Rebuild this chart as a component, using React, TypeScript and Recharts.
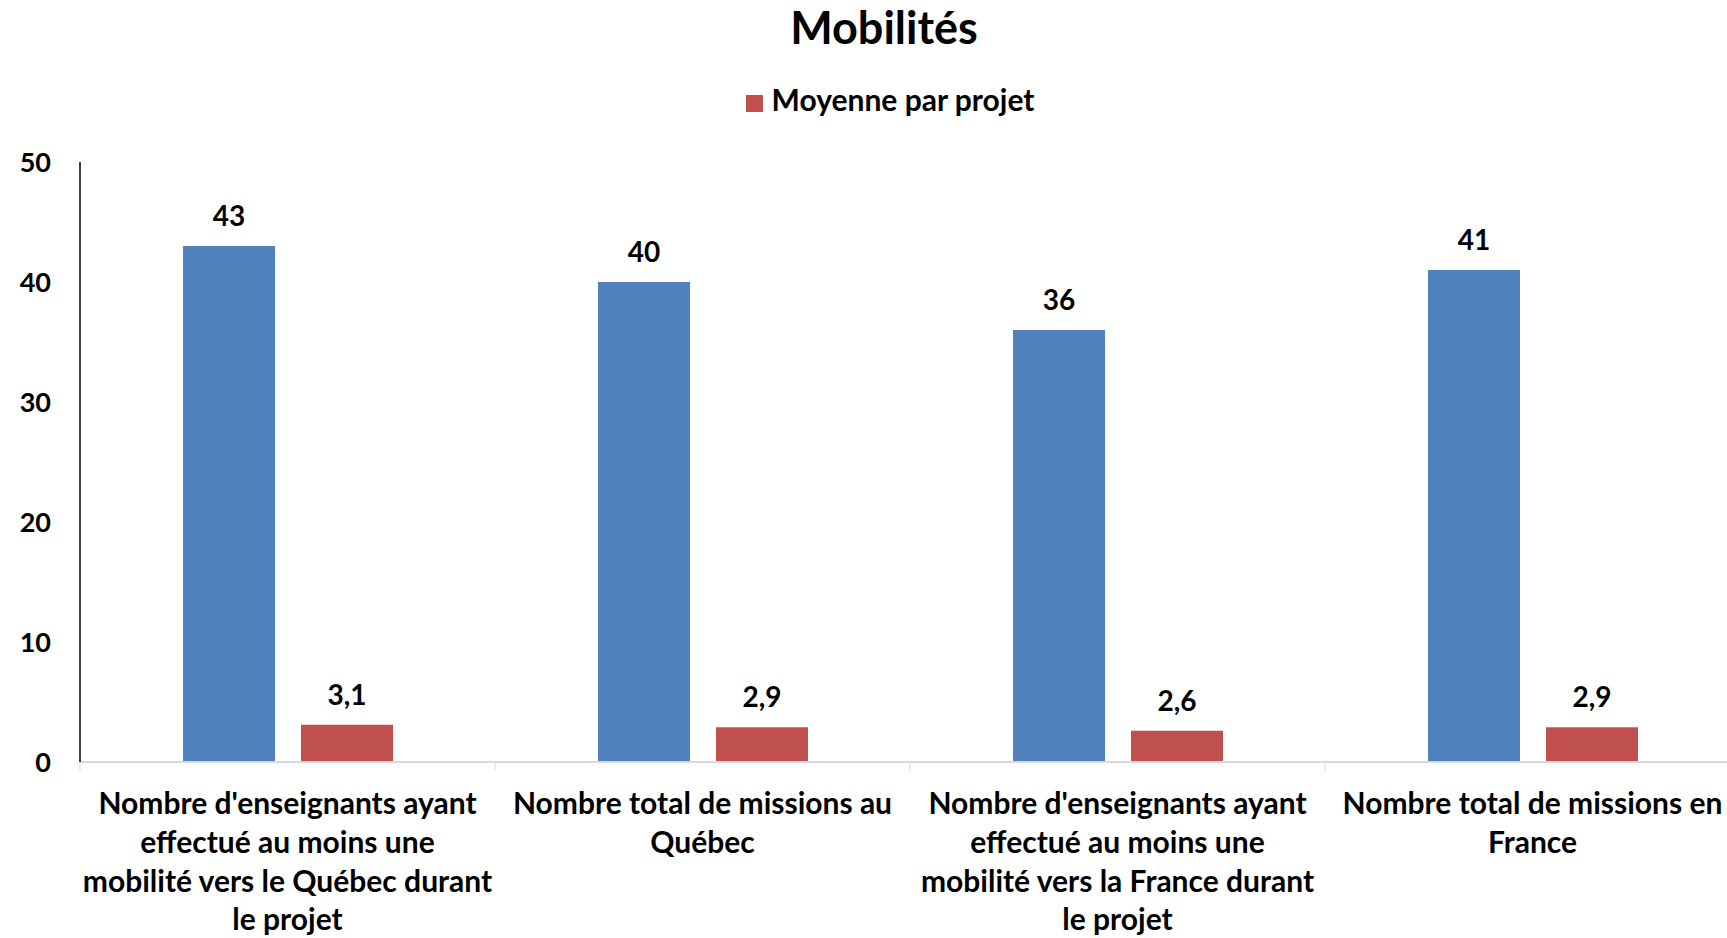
import { Bar, BarChart, LabelList, Legend, XAxis, YAxis } from "recharts";

const categories = [
  "Nombre d'enseignants ayant\neffectué au moins une\nmobilité vers le Québec durant\nle projet",
  "Nombre total de missions au\nQuébec",
  "Nombre d'enseignants ayant\neffectué au moins une\nmobilité vers la France durant\nle projet",
  "Nombre total de missions en\nFrance",
];
const totals = [43, 40, 36, 41];
const averages = [3.1, 2.9, 2.6, 2.9];
const yTicks = [0, 10, 20, 30, 40, 50];

const data = categories.map((name, i) => ({ name, total: totals[i], avg: averages[i] }));

const FONT = "Lato, 'Open Sans', sans-serif";
const BAND = 415;

function CategoryTick(props: any) {
  const { x, y, payload, index } = props;
  const lines = String(payload.value).split("\n");
  return (
    <g>
      <line x1={x - BAND / 2} x2={x - BAND / 2} y1={y} y2={y + 9} stroke="#d9d9d9" />
      {index === categories.length - 1 && (
        <line x1={x + BAND / 2} x2={x + BAND / 2} y1={y} y2={y + 9} stroke="#d9d9d9" />
      )}
      {lines.map((l, i) => (
        <text
          key={i}
          x={x}
          y={y + 52 + i * 38.8}
          textAnchor="middle"
          fontSize={30}
          fontWeight={700}
          fill="#000"
          fontFamily={FONT}
        >
          {l}
        </text>
      ))}
    </g>
  );
}

const comma = (v: any) => (Number.isInteger(v) ? String(v) : String(v).replace(".", ","));

const labelStyle = { fontSize: 28, fontWeight: 700, fill: "#000", fontFamily: FONT };

export default function App() {
  return (
    <div
      style={{
        position: "absolute",
        left: 0,
        top: 0,
        width: 1727,
        height: 938,
        overflow: "hidden",
        background: "#fff",
        fontFamily: FONT,
      }}
    >
      <div
        style={{
          position: "absolute",
          left: 0,
          top: 1,
          width: 1768,
          textAlign: "center",
          fontSize: 45,
          fontWeight: 700,
          lineHeight: "52px",
          color: "#000",
        }}
      >
        Mobilités
      </div>
      <BarChart
        width={1760}
        height={938}
        data={data}
        margin={{ top: 162, right: 20, bottom: 146, left: 0 }}
        barSize={92}
        barGap={26}
      >
        <XAxis
          dataKey="name"
          interval={0}
          height={30}
          axisLine={{ stroke: "#d9d9d9", strokeWidth: 2 }}
          tickLine={false}
          tickSize={0}
          tickMargin={0}
          tick={<CategoryTick />}
        />
        <YAxis
          width={80}
          domain={[0, 50]}
          ticks={yTicks}
          interval={0}
          axisLine={{ stroke: "#000", strokeWidth: 1.5 }}
          tickLine={false}
          tickSize={0}
          tickMargin={29}
          tick={{ fontSize: 27, fontWeight: 700, fill: "#000", fontFamily: FONT }}
        />
        <Legend
          verticalAlign="middle"
          layout="horizontal"
          align="center"
          iconType="square"
          iconSize={17}
          wrapperStyle={{ top: 80, left: 0, width: 1790, fontSize: 30, fontWeight: 700, lineHeight: "38px" }}
          formatter={(value) => <span style={{ color: "#000", marginLeft: 5 }}>{value}</span>}
        />
        <Bar dataKey="total" name="Total" fill="#4f81bd" legendType="none" isAnimationActive={false}>
          <LabelList dataKey="total" position="top" offset={20} formatter={comma} style={labelStyle} />
        </Bar>
        <Bar dataKey="avg" name="Moyenne par projet" fill="#c0504d" isAnimationActive={false}>
          <LabelList dataKey="avg" position="top" offset={20} formatter={comma} style={labelStyle} />
        </Bar>
      </BarChart>
    </div>
  );
}
